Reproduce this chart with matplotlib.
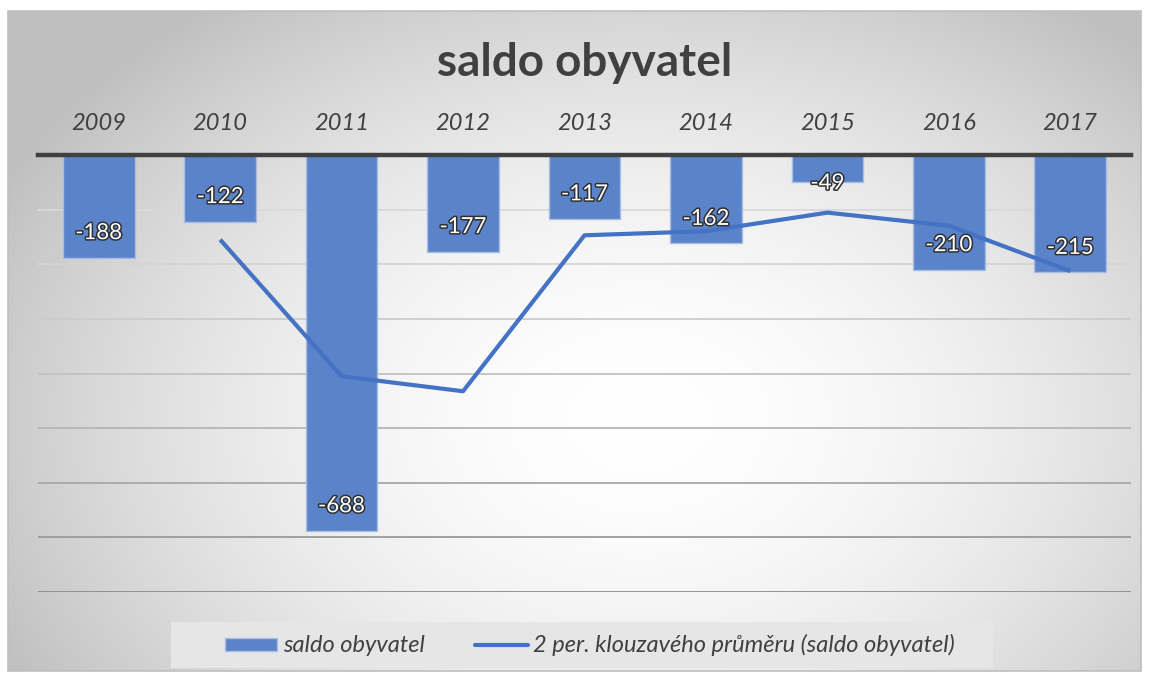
import numpy as np
import matplotlib
matplotlib.use("Agg")
import matplotlib.pyplot as plt
import matplotlib.patheffects as pe
from matplotlib.patches import Rectangle
from matplotlib.lines import Line2D

# ---- data ----
years = ["2009", "2010", "2011", "2012", "2013", "2014", "2015", "2016", "2017"]
saldo = [-188, -122, -688, -177, -117, -162, -49, -210, -215]
# 2-period moving average (starts at 2010)
ma_years_idx = [1, 2, 3, 4, 5, 6, 7, 8]
ma_values = [-155, -405, -432.5, -147, -139.5, -105.5, -129.5, -212.5]
title = "saldo obyvatel"
legend_bar = "saldo obyvatel"
legend_line = "2 per. klouzavého průměru (saldo obyvatel)"
grid_vals = [-100, -200, -300, -400, -500, -600, -700, -800]

FONT = ["Lato", "DejaVu Sans"]
BAR_C = "#5b83c9"
BAR_E = "#a9bde3"
LINE_C = "#4472c4"

W, H = 1149, 677
fig = plt.figure(figsize=(W / 100, H / 100), dpi=100)
fig.patch.set_facecolor("white")

# ---- background with radial gradient ----
bg = fig.add_axes([0, 0, 1, 1])
bg.set_xlim(0, W)
bg.set_ylim(H, 0)
bg.axis("off")
x0, y0, x1, y1 = 8, 11, 1141, 671
xx, yy = np.meshgrid(np.linspace(x0, x1, 400), np.linspace(y0, y1, 240))
cx, cy = 640, 420
r = np.sqrt(((xx - cx) / 720) ** 2 + ((yy - cy) / 520) ** 2)
r = np.clip(r, 0, 1)
shade = 1.0 - 0.25 * r ** 1.8
img = np.dstack([shade, shade, shade])
bg.imshow(img, extent=(x0, x1, y1, y0), aspect="auto", interpolation="bilinear", zorder=0)
bg.add_patch(Rectangle((x0, y0), x1 - x0, y1 - y0, fill=False, edgecolor="#bfbfbf", lw=1.2, zorder=1))

# ---- main axes ----
left, right = 38, 1131
top, bottom = 155, 592
ax = fig.add_axes([left / W, (H - bottom) / H, (right - left) / W, (bottom - top) / H])
ax.patch.set_alpha(0)
ax.set_xlim(-0.5, len(years) - 0.5)
ax.set_ylim(-800, 0)
for s in ax.spines.values():
    s.set_visible(False)
ax.set_xticks([])
ax.set_yticks([])

gcols = ["#d9d9d9", "#d4d4d4", "#cccccc", "#c2c2c2", "#b5b5b5", "#a8a8a8", "#9a9a9a", "#8c8c8c"]
for gv, gc in zip(grid_vals, gcols):
    ax.axhline(gv, color=gc, lw=1.3, zorder=1)

x = np.arange(len(years))
ax.bar(x, saldo, width=0.59, color=BAR_C, edgecolor=BAR_E, linewidth=1.0, zorder=2)
ax.plot(ma_years_idx, ma_values, color=LINE_C, lw=3, zorder=4, solid_capstyle="butt")
ax.axhline(0, color="#404040", lw=3.2, zorder=5, clip_on=False)

for xi, v in zip(x, saldo):
    ly = v + 45 if v < -100 else v - 3
    ax.text(xi, ly, f"{v}", ha="center", va="center", fontsize=16, color="white",
            family=FONT, zorder=6,
            path_effects=[pe.withStroke(linewidth=2.2, foreground="#303030")])

for xi, yl in zip(x, years):
    ax.text(xi, 1 + 31 / (bottom - top), yl, transform=ax.get_xaxis_transform(),
            ha="center", va="center", fontsize=17, style="italic", color="#404040",
            family=FONT)

fig.text(585 / W, 1 - 63 / H, title, ha="center", va="center", fontsize=33, fontweight="bold",
         color="#404040", family=FONT)

# ---- legend (drawn in pixel coordinates on background axes) ----
bg.add_patch(Rectangle((171, 622), 993 - 171, 46, facecolor="#e6e6e6", edgecolor="none", zorder=2))
bg.add_patch(Rectangle((225, 638), 52, 13, facecolor=BAR_C, edgecolor=BAR_E, lw=1.0, zorder=3))
bg.text(283, 645, legend_bar, ha="left", va="center", fontsize=17, style="italic",
        color="#404040", family=FONT, zorder=3)
bg.add_line(Line2D([475, 528], [645, 645], color=LINE_C, lw=3, zorder=3, solid_capstyle="round"))
bg.text(533, 645, legend_line, ha="left", va="center", fontsize=17, style="italic",
        color="#404040", family=FONT, zorder=3)

fig.savefig("out.png", dpi=100, facecolor="white")
